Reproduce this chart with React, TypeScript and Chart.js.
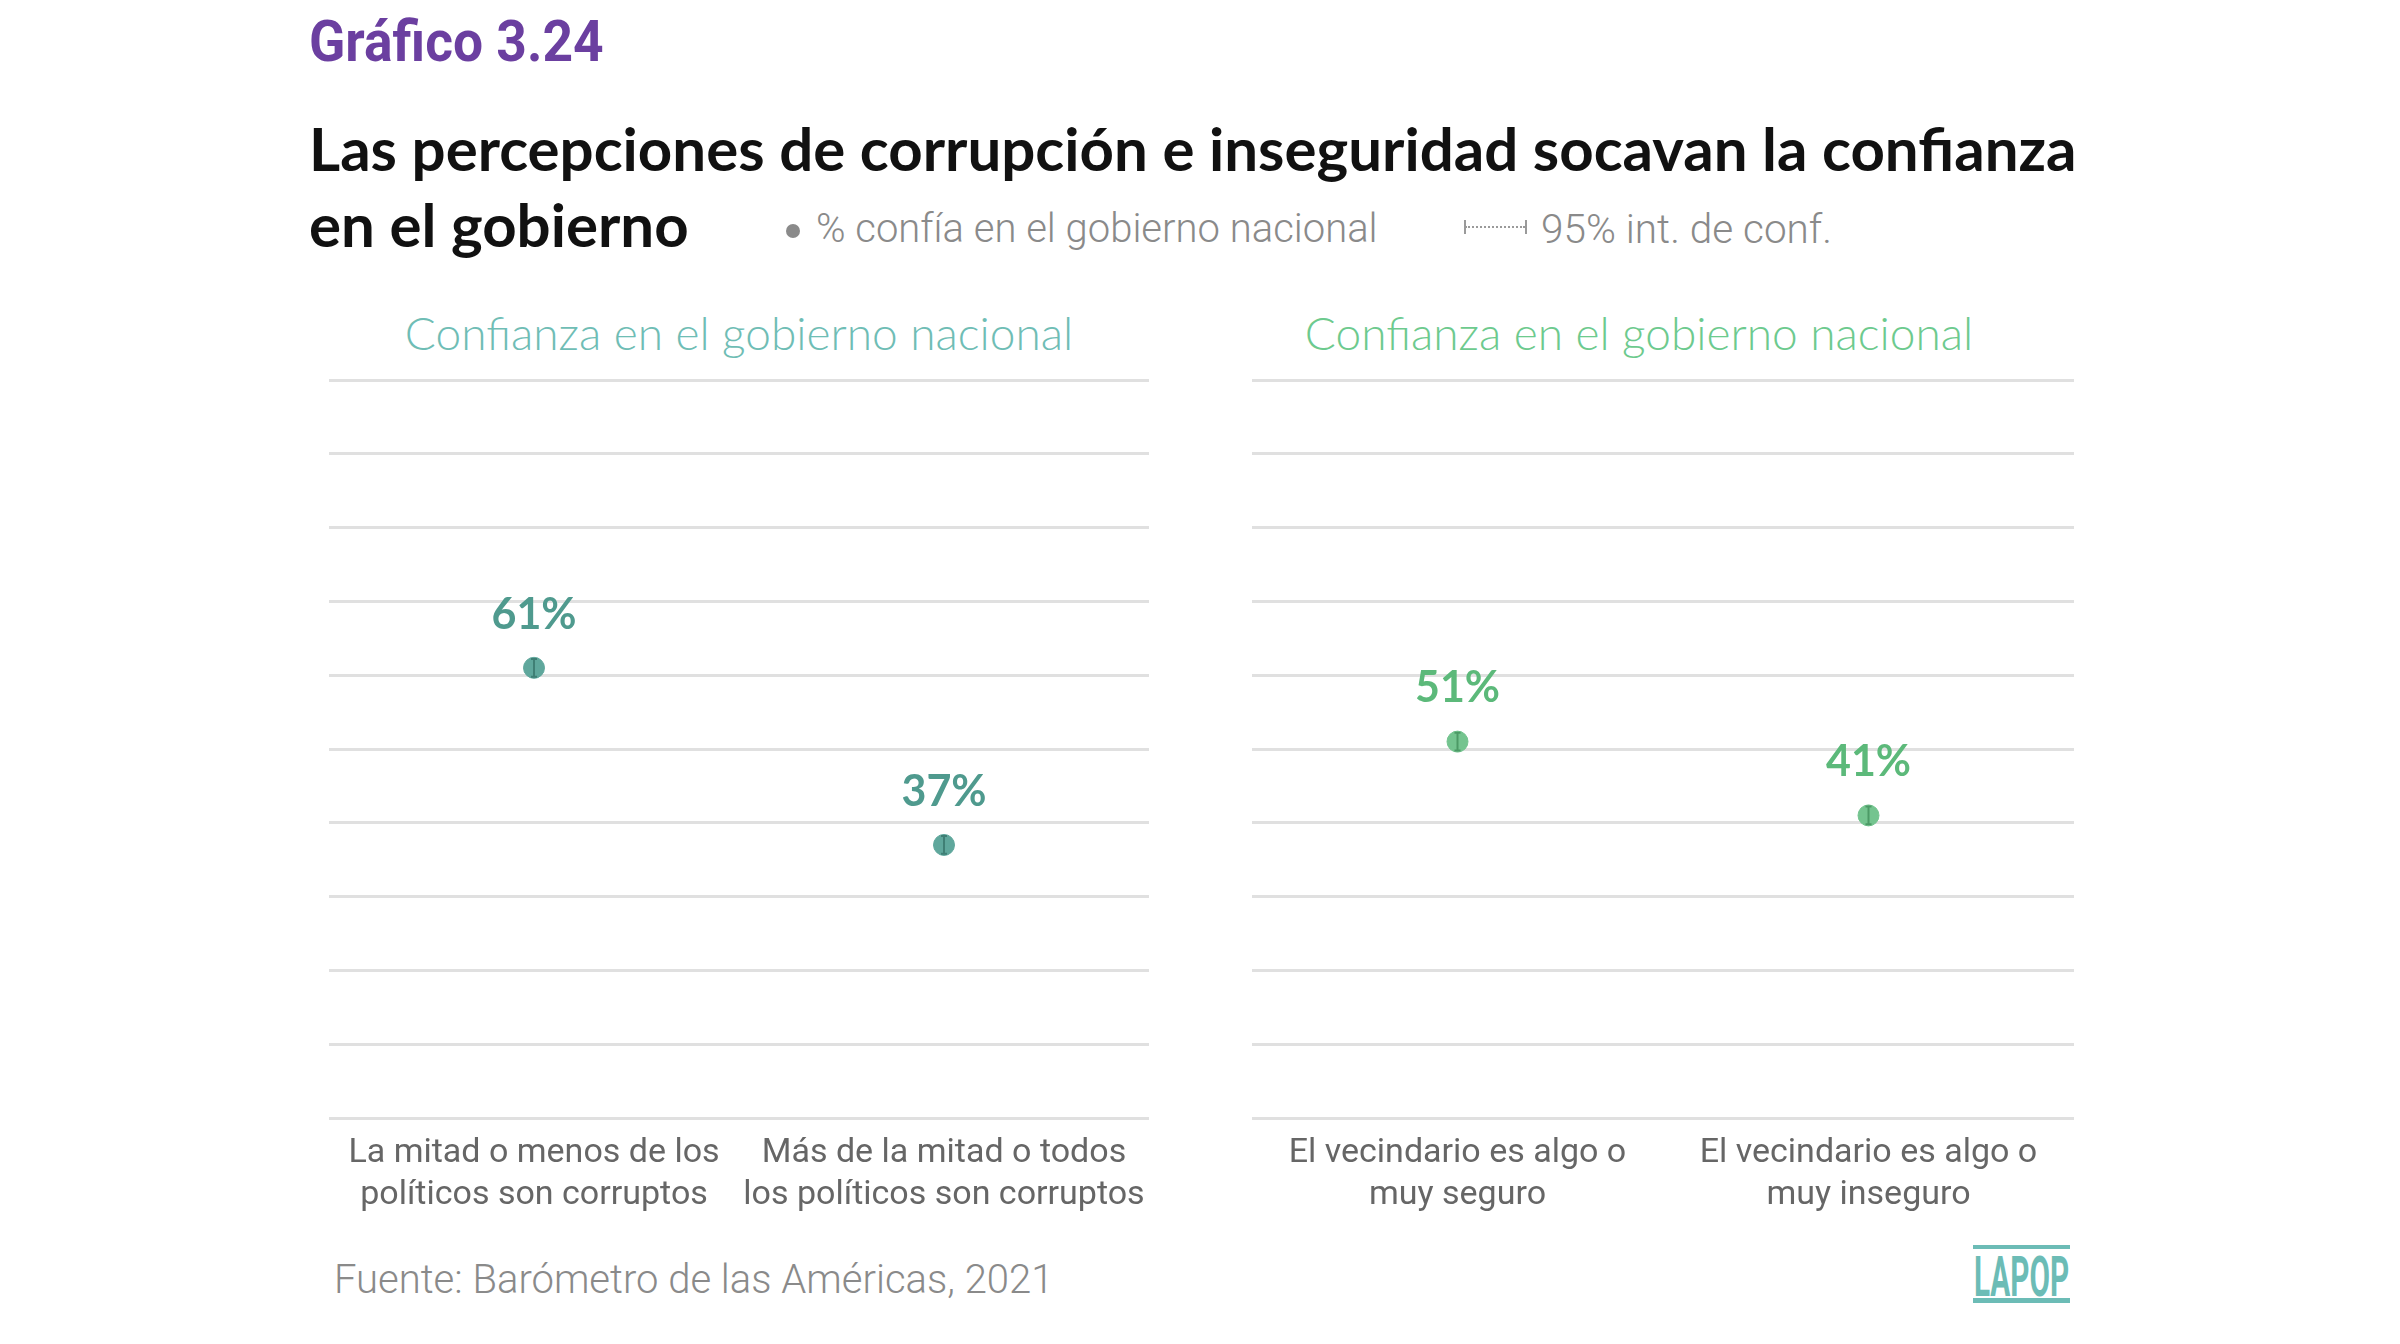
import React, { useEffect, useRef } from "react";
import { Chart, registerables } from "chart.js";

Chart.register(...registerables);

// ---------- data ----------
const corruptionCategories = [
  ["La mitad o menos de los", "políticos son corruptos"],
  ["Más de la mitad o todos", "los políticos son corruptos"],
];
const corruptionValues = [61, 37];
const corruptionLow = [59.8, 35.8];
const corruptionHigh = [62.2, 38.2];

const securityCategories = [
  ["El vecindario es algo o", "muy seguro"],
  ["El vecindario es algo o", "muy inseguro"],
];
const securityValues = [51, 41];
const securityLow = [49.8, 39.8];
const securityHigh = [52.2, 42.2];

const yMin = 0;
const yMax = 100;
const yStep = 10;

const panelTitles = ["Confianza en el gobierno nacional", "Confianza en el gobierno nacional"];
const chartLabel = "Gráfico 3.24";
const titleLines = ["Las percepciones de corrupción e inseguridad socavan la confianza", "en el gobierno"];
const legendPoint = "% confía en el gobierno nacional";
const legendCI = "95% int. de conf.";
const sourceText = "Fuente: Barómetro de las Américas, 2021";

// ---------- plugin: error bars + value labels ----------
const pointDecor = {
  id: "pointDecor",
  afterDatasetsDraw(chart: any, _args: any, opts: any) {
    const ctx = chart.ctx;
    const meta = chart.getDatasetMeta(0);
    const ds = chart.data.datasets[0];
    const yScale = chart.scales.y;
    meta.data.forEach((pt: any, i: number) => {
      const x = pt.x;
      const y = pt.y;
      const yl = yScale.getPixelForValue(opts.low[i]);
      const yh = yScale.getPixelForValue(opts.high[i]);
      ctx.save();
      ctx.strokeStyle = opts.barColor;
      ctx.lineWidth = 2;
      ctx.beginPath();
      ctx.moveTo(x, yl);
      ctx.lineTo(x, yh);
      ctx.moveTo(x - 3, yl);
      ctx.lineTo(x + 3, yl);
      ctx.moveTo(x - 3, yh);
      ctx.lineTo(x + 3, yh);
      ctx.stroke();
      ctx.font = "bold 43px Lato";
      ctx.fillStyle = opts.labelColor;
      ctx.textAlign = "center";
      ctx.textBaseline = "middle";
      ctx.fillText(ds.data[i] + "%", x, y - 53);
      ctx.restore();
    });
  },
};

function Panel(props: {
  left: number;
  top: number;
  width: number;
  height: number;
  labels: string[][];
  values: number[];
  low: number[];
  high: number[];
  pointColor: string;
  barColor: string;
  labelColor: string;
}) {
  const ref = useRef<HTMLCanvasElement>(null);
  useEffect(() => {
    const chart = new Chart(ref.current as HTMLCanvasElement, {
      type: "line",
      data: {
        labels: props.labels as any,
        datasets: [
          {
            data: props.values,
            showLine: false,
            pointRadius: 10.5,
            pointBackgroundColor: props.pointColor,
            pointBorderColor: props.pointColor,
            pointBorderWidth: 1,
          },
        ],
      },
      options: {
        animation: false,
        responsive: false,
        devicePixelRatio: 1,
        layout: { padding: { left: 50, right: 50, top: 20, bottom: 12 } },
        plugins: {
          legend: { display: false },
          tooltip: { enabled: false },
          title: { display: false },
          pointDecor: { low: props.low, high: props.high, barColor: props.barColor, labelColor: props.labelColor },
        } as any,
        scales: {
          x: {
            type: "category",
            offset: true,
            grid: { display: false },
            border: { display: false },
            ticks: {
              color: "#666666",
              font: { family: "Roboto", size: 34, lineHeight: 1.22 },
              padding: 7,
              maxRotation: 0,
              autoSkip: false,
            },
            afterFit: (s: any) => {
              s.height = 110;
            },
          },
          y: {
            min: yMin,
            max: yMax,
            ticks: { stepSize: yStep, display: false },
            grid: { color: "#e0e0e0", lineWidth: 3, drawTicks: false },
            border: { display: false },
            afterFit: (s: any) => {
              s.width = 0;
            },
          },
        },
      },
      plugins: [pointDecor as any],
    });
    return () => chart.destroy();
  }, []);
  return (
    <canvas
      ref={ref}
      width={props.width}
      height={props.height}
      style={{ position: "absolute", left: props.left, top: props.top, width: props.width, height: props.height }}
    />
  );
}

const abs = (o: any) => ({ position: "absolute" as const, whiteSpace: "nowrap" as const, lineHeight: 1, ...o });

export default function App() {
  return (
    <div style={{ position: "fixed", left: 0, top: 0, width: 2400, height: 1344, background: "#ffffff", overflow: "hidden" }}>
      <div
        style={abs({
          left: 309,
          top: 12,
          fontFamily: "Roboto",
          fontWeight: 700,
          fontSize: 58,
          color: "#6b3fa0",
          transform: "scaleX(0.92)",
          transformOrigin: "left top",
        })}
      >
        {chartLabel}
      </div>
      <div style={abs({ left: 309, top: 118, fontFamily: "Lato", fontWeight: 700, fontSize: 60, color: "#111111" })}>
        {titleLines[0]}
      </div>
      <div style={abs({ left: 309, top: 194, fontFamily: "Lato", fontWeight: 700, fontSize: 60, color: "#111111" })}>
        {titleLines[1]}
      </div>
      {/* legend */}
      <div style={abs({ left: 786, top: 224, width: 14, height: 14, borderRadius: 7, background: "#8a8a8a" })} />
      <div style={abs({ left: 816, top: 209, fontFamily: "Roboto", fontWeight: 300, fontSize: 40, color: "#8a8a8a" })}>
        {legendPoint}
      </div>
      <div style={abs({ left: 1465, top: 226, width: 60, height: 0, borderTop: "2px dotted #9a9a9a" })} />
      <div style={abs({ left: 1464, top: 220, width: 2, height: 14, background: "#9a9a9a" })} />
      <div style={abs({ left: 1525, top: 220, width: 2, height: 14, background: "#9a9a9a" })} />
      <div style={abs({ left: 1541, top: 209, fontFamily: "Roboto", fontWeight: 300, fontSize: 40.5, color: "#8a8a8a" })}>
        {legendCI}
      </div>
      {/* panel titles */}
      <div style={abs({ left: 739, top: 310, transform: "translateX(-50%)", fontFamily: "Lato", fontWeight: 300, fontSize: 46, color: "#6fbdb5" })}>
        {panelTitles[0]}
      </div>
      <div style={abs({ left: 1639, top: 310, transform: "translateX(-50%)", fontFamily: "Lato", fontWeight: 300, fontSize: 46, color: "#6dca8e" })}>
        {panelTitles[1]}
      </div>
      <Panel
        left={279}
        top={360}
        width={920}
        height={880}
        labels={corruptionCategories}
        values={corruptionValues}
        low={corruptionLow}
        high={corruptionHigh}
        pointColor="#5fa79c"
        barColor="#3f7f75"
        labelColor="#4f9a8e"
      />
      <Panel
        left={1202}
        top={360}
        width={922}
        height={880}
        labels={securityCategories}
        values={securityValues}
        low={securityLow}
        high={securityHigh}
        pointColor="#74c48f"
        barColor="#4c9a66"
        labelColor="#5cb97a"
      />
      <div style={abs({ left: 334, top: 1260, fontFamily: "Roboto", fontWeight: 300, fontSize: 40, color: "#8a8a8a" })}>
        {sourceText}
      </div>
      {/* LAPOP logo */}
      <div style={abs({ left: 1973, top: 1245, width: 97, height: 4, background: "#6cbcb6" })} />
      <div style={abs({ left: 1973, top: 1298, width: 97, height: 5, background: "#6cbcb6" })} />
      <div
        style={abs({
          left: 1974,
          top: 1250,
          fontFamily: "Roboto",
          fontWeight: 700,
          fontSize: 55,
          color: "#6cbcb6",
          transform: "scaleX(0.54)",
          transformOrigin: "left top",
        })}
      >
        LAPOP
      </div>
    </div>
  );
}
